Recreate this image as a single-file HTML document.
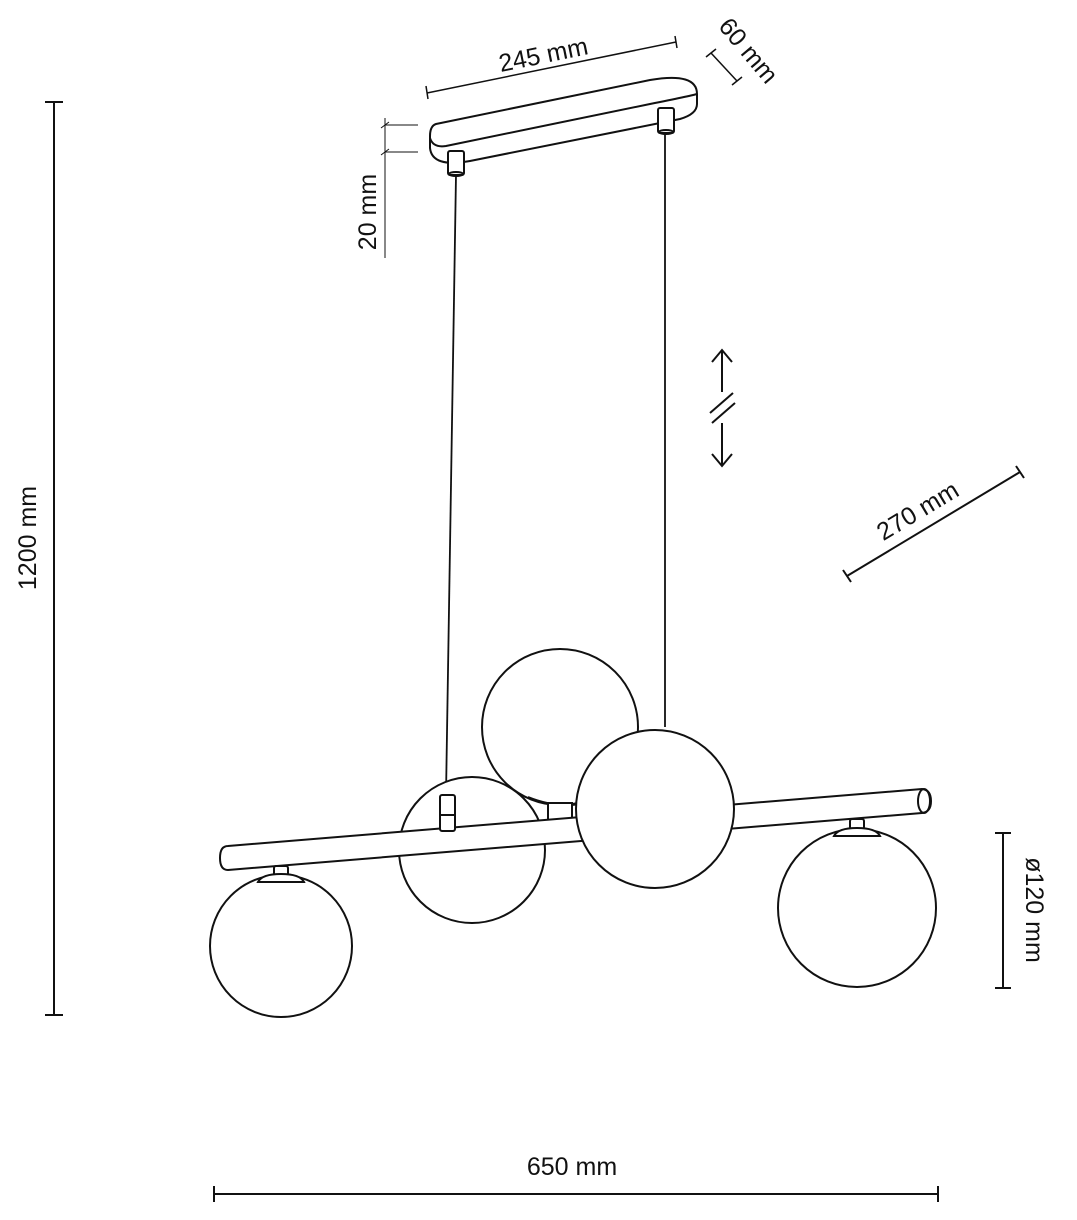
<!DOCTYPE html>
<html><head><style>html,body{margin:0;padding:0;background:#fff}svg{display:block}text{font-family:"Liberation Sans",sans-serif;font-size:25px;fill:#111}</style></head>
<body>
<svg width="1077" height="1220" viewBox="0 0 1077 1220" xmlns="http://www.w3.org/2000/svg" fill="none" stroke="#111" stroke-width="2">
<!-- 1200 dimension -->
<line x1="54" y1="102" x2="54" y2="1015"/>
<line x1="45" y1="102" x2="63" y2="102"/>
<line x1="45" y1="1015" x2="63" y2="1015"/>
<text x="0" y="0" transform="translate(36,538) rotate(-90)" text-anchor="middle" stroke="none">1200 mm</text>
<!-- 650 -->
<line x1="214" y1="1194" x2="938" y2="1194"/>
<line x1="214" y1="1186" x2="214" y2="1202"/>
<line x1="938" y1="1186" x2="938" y2="1202"/>
<text x="572" y="1175" text-anchor="middle" stroke="none">650 mm</text>
<!-- ø120 -->
<line x1="1003" y1="833" x2="1003" y2="988"/>
<line x1="995" y1="833" x2="1011" y2="833"/>
<line x1="995" y1="988" x2="1011" y2="988"/>
<text x="0" y="0" transform="translate(1026,910) rotate(90)" text-anchor="middle" stroke="none">ø120 mm</text>
<!-- 270 -->
<line x1="847" y1="576" x2="1020" y2="472"/>
<line x1="843" y1="570" x2="851" y2="582"/>
<line x1="1016" y1="466" x2="1024" y2="478"/>
<text x="0" y="0" transform="translate(922,518) rotate(-31)" text-anchor="middle" stroke="none">270 mm</text>
<!-- 245 -->
<line x1="427" y1="93" x2="676" y2="42" stroke-width="1.5"/>
<line x1="426" y1="86" x2="428" y2="99" stroke-width="1.5"/>
<line x1="675" y1="36" x2="677" y2="48" stroke-width="1.5"/>
<text x="0" y="0" transform="translate(545,63) rotate(-11.5)" text-anchor="middle" stroke="none">245 mm</text>
<!-- 60 -->
<line x1="711" y1="53" x2="737" y2="81" stroke-width="1.5"/>
<line x1="706" y1="57" x2="716" y2="49" stroke-width="1.5"/>
<line x1="732" y1="85" x2="742" y2="77" stroke-width="1.5"/>
<text x="0" y="0" transform="translate(742,56) rotate(50)" text-anchor="middle" stroke="none">60 mm</text>
<!-- 20 -->
<line x1="385" y1="118" x2="385" y2="258" stroke-width="1"/>
<line x1="385" y1="125" x2="418" y2="125" stroke-width="1"/>
<line x1="385" y1="152" x2="418" y2="152" stroke-width="1"/>
<line x1="381" y1="128" x2="389" y2="122" stroke-width="1"/>
<line x1="381" y1="155" x2="389" y2="149" stroke-width="1"/>
<text x="0" y="0" transform="translate(376,212) rotate(-90)" text-anchor="middle" stroke="none">20 mm</text>
<!-- canopy -->
<path d="M436,124 L650,80 Q697,72 697,94 L697,104 Q697,114 680,119 L470,161 Q432,168 430,148 L430,136 Q430,126 436,124 Z" fill="#fff"/>
<path d="M430,138 Q433,148 446,146 L650,104 Q690,96 697,94"/>
<!-- cables -->
<line x1="456" y1="175" x2="446" y2="795" stroke-width="1.8"/>
<line x1="665" y1="133" x2="665" y2="727" stroke-width="1.8"/>
<rect x="448" y="151" width="16" height="24" rx="2" fill="#fff"/>
<ellipse cx="456" cy="174" rx="7" ry="2"/>
<rect x="658" y="108" width="16" height="25" rx="2" fill="#fff"/>
<ellipse cx="666" cy="132" rx="7" ry="2"/>
<!-- double arrow -->
<line x1="722" y1="350" x2="722" y2="392"/>
<polyline points="712,362 722,350 732,362"/>
<line x1="710" y1="413" x2="733" y2="393"/>
<line x1="712" y1="423" x2="735" y2="403"/>
<line x1="722" y1="423" x2="722" y2="466"/>
<polyline points="712,454 722,466 732,454"/>
<!-- back globes -->
<circle cx="560" cy="727" r="78" fill="#fff"/>
<path d="M528,797 Q560,810 590,802" />
<rect x="548" y="803" width="24" height="18" fill="#fff"/>
<circle cx="472" cy="850" r="73" fill="#fff"/>
<!-- bar -->
<path d="M228,846 L922,789 Q931,790 931,801 Q931,812 922,813 L228,870 Q220,870 220,858 Q220,846 228,846 Z" fill="#fff"/>
<ellipse cx="924" cy="801" rx="6" ry="12"/>
<!-- left fitting on bar -->
<rect x="440" y="795" width="15" height="36" rx="2" fill="#fff"/>
<line x1="440" y1="815" x2="455" y2="815"/>
<!-- front globe -->
<circle cx="655" cy="809" r="79" fill="#fff"/>
<!-- hanging globes -->
<circle cx="281" cy="946" r="71" fill="#fff"/>
<rect x="274" y="866" width="14" height="10" rx="2" fill="#fff"/>
<path d="M258,882 Q262,874 281,874 Q300,874 304,882 Z" fill="#fff"/>
<circle cx="857" cy="908" r="79" fill="#fff"/>
<rect x="850" y="819" width="14" height="10" rx="2" fill="#fff"/>
<path d="M834,836 Q838,828 857,828 Q876,828 880,836 Z" fill="#fff"/>
</svg>
</body></html>
